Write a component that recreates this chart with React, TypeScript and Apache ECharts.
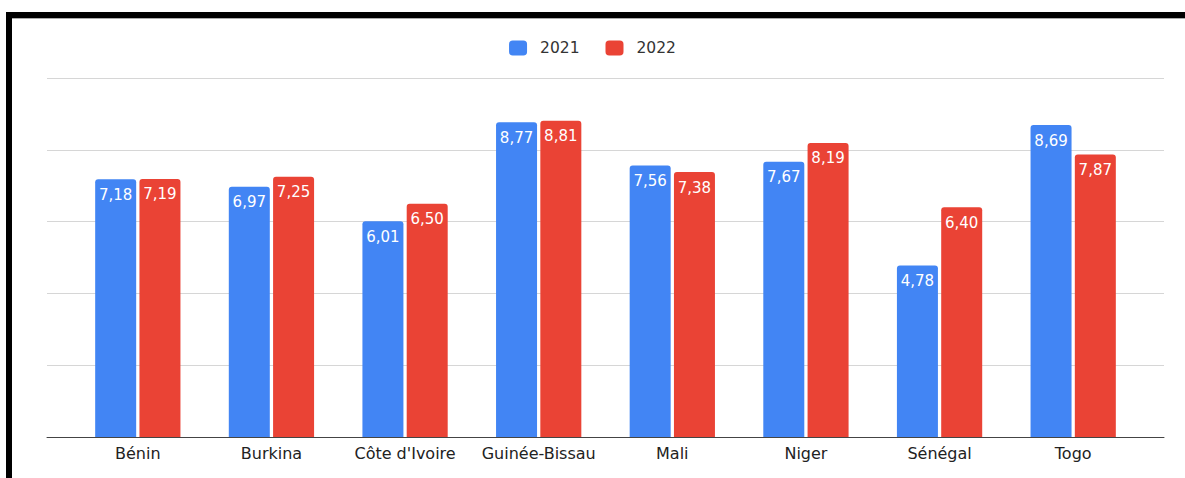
import React, { useEffect, useRef } from "react";
import * as echarts from "echarts";

const categories = ["Bénin", "Burkina", "Côte d'Ivoire", "Guinée-Bissau", "Mali", "Niger", "Sénégal", "Togo"];
const values2021 = [7.18, 6.97, 6.01, 8.77, 7.56, 7.67, 4.78, 8.69];
const values2022 = [7.19, 7.25, 6.5, 8.81, 7.38, 8.19, 6.4, 7.87];
const seriesNames = ["2021", "2022"];

const FONT = "DejaVu Sans, Verdana, sans-serif";

export default function App() {
  const ref = useRef<HTMLDivElement>(null);
  useEffect(() => {
    if (!ref.current) return;
    const chart = echarts.init(ref.current, null, { renderer: "svg" });
    const label = {
      show: true,
      position: "insideTop" as const,
      distance: 8,
      color: "#ffffff",
      fontSize: 15,
      fontFamily: FONT,
      formatter: (p: any) => Number(p.value).toFixed(2).replace(".", ","),
    };
    chart.setOption({
      animation: false,
      backgroundColor: "#ffffff",
      textStyle: { fontFamily: FONT },
      legend: {
        data: seriesNames,
        top: 35,
        left: "center",
        itemWidth: 18,
        itemHeight: 15,
        itemGap: 26,
        icon: "roundRect",
        textStyle: { fontSize: 15.5, color: "#333", fontFamily: FONT, padding: [0, 0, 0, 8] },
      },
      grid: [
        { left: 47, right: 21, top: 78, bottom: 41 },
        { left: 71, right: 45, top: 78, bottom: 41 },
      ],
      xAxis: [
        {
          gridIndex: 0,
          type: "value",
          min: 0,
          max: 1,
          axisLine: { show: true, onZero: false, lineStyle: { color: "#444", width: 1 } },
          axisTick: { show: false },
          axisLabel: { show: false },
          splitLine: { show: false },
        },
        {
          gridIndex: 1,
          type: "category",
          data: categories,
          axisLine: { show: false },
          axisTick: { show: false },
          axisLabel: { color: "#222", fontSize: 16, fontFamily: FONT, margin: 8, interval: 0, hideOverlap: false },
        },
      ],
      yAxis: [
        {
          gridIndex: 0,
          type: "value",
          min: 0,
          max: 10,
          interval: 2,
          axisLine: { show: false },
          axisTick: { show: false },
          axisLabel: { show: false },
          splitLine: { show: true, lineStyle: { color: "#d6d6d6", width: 1 } },
        },
        {
          gridIndex: 1,
          type: "value",
          min: 0,
          max: 10,
          interval: 2,
          show: false,
          splitLine: { show: false },
        },
      ],
      series: [
        {
          name: seriesNames[0],
          type: "bar",
          xAxisIndex: 1,
          yAxisIndex: 1,
          data: values2021,
          barWidth: 41,
          barGap: "8%",
          itemStyle: { color: "#4285F4", borderRadius: [3, 3, 0, 0] },
          label,
        },
        {
          name: seriesNames[1],
          type: "bar",
          xAxisIndex: 1,
          yAxisIndex: 1,
          data: values2022,
          barWidth: 41,
          barGap: "8%",
          itemStyle: { color: "#EA4335", borderRadius: [3, 3, 0, 0] },
          label,
        },
      ],
      graphic: [
        { type: "rect", shape: { x: 6, y: 12, width: 1179, height: 6 }, style: { fill: "#000" }, silent: true },
        { type: "rect", shape: { x: 6, y: 12, width: 6, height: 466 }, style: { fill: "#000" }, silent: true },
        { type: "line", shape: { x1: 12, y1: 18.5, x2: 1185, y2: 18.5 }, style: { stroke: "#aaa", lineWidth: 1 }, silent: true },
      ],
    });
    return () => chart.dispose();
  }, []);
  return <div ref={ref} style={{ position: "fixed", left: 0, top: 0, width: 1185, height: 478 }} />;
}
